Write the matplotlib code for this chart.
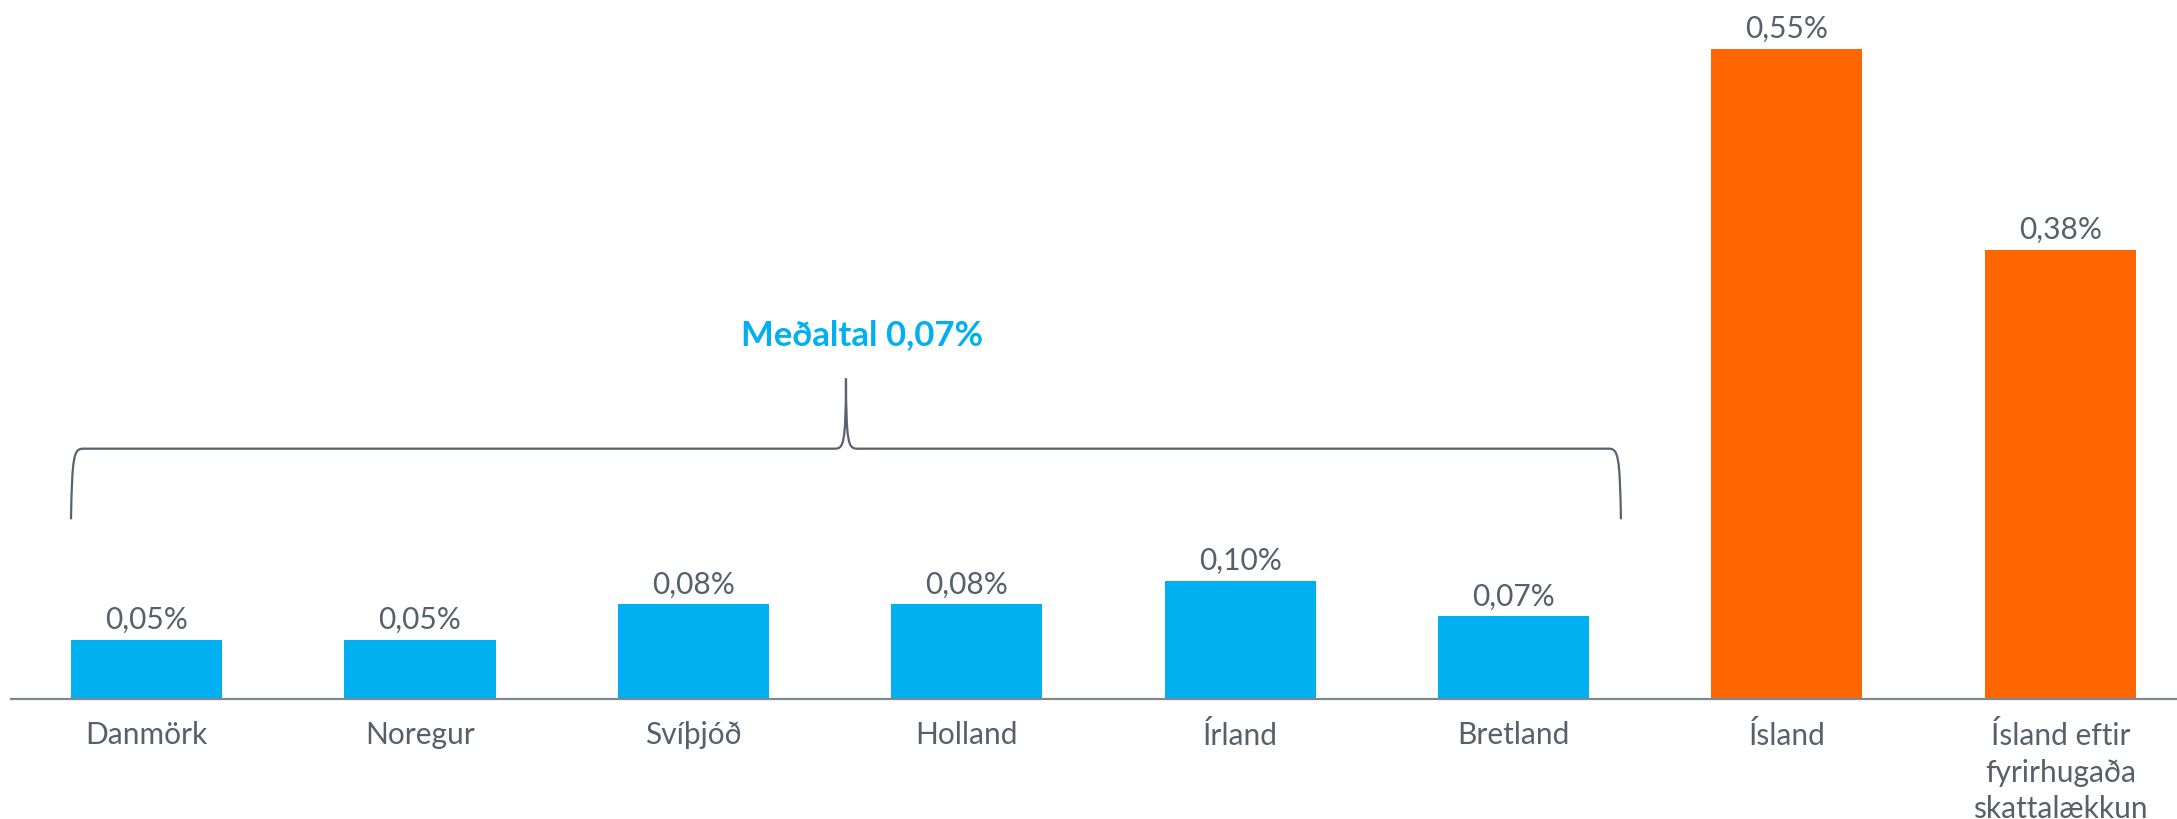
import matplotlib
matplotlib.use("Agg")
import matplotlib.pyplot as plt
from matplotlib.path import Path
from matplotlib.patches import PathPatch

# ---- data ----
categories = ["Danmörk", "Noregur", "Svíþjóð", "Holland", "Írland", "Bretland",
              "Ísland", "Ísland eftir\nfyrirhugaða\nskattalækkun"]
values = [0.05, 0.05, 0.08, 0.08, 0.10, 0.07, 0.55, 0.38]
value_labels = ["0,05%", "0,05%", "0,08%", "0,08%", "0,10%", "0,07%", "0,55%", "0,38%"]
bar_colors = ["#00B0F0"] * 6 + ["#FF6600"] * 2
average_label = "Meðaltal 0,07%"

TEXT = "#56606B"
LINE = "#5A6270"
FONT = ["Lato", "DejaVu Sans"]

fig = plt.figure(figsize=(21.77, 8.2), dpi=100)
ax = fig.add_axes([11 / 2177, 120 / 820, 1 - 11 / 2177, 1 - 120 / 820])

x = list(range(len(categories)))
ax.bar(x, values, width=0.553, color=bar_colors, zorder=2)

ax.set_xlim(-0.496, 7.427)
ax.set_ylim(0, 0.592)

for xi, v, lab in zip(x, values, value_labels):
    ax.annotate(lab, (xi, v), xytext=(0, 5), textcoords="offset points",
                ha="center", va="bottom", fontsize=21.5, color=TEXT, family=FONT)

ax.set_xticks(x)
ax.set_xticklabels(categories, fontsize=21.5, color=TEXT, family=FONT, linespacing=1.38)
ax.tick_params(axis="x", length=0, pad=15)
ax.set_yticks([])
for s in ["top", "left", "right"]:
    ax.spines[s].set_visible(False)
ax.spines["bottom"].set_color("#7F8790")
ax.spines["bottom"].set_linewidth(1.6)

# ---- brace over the first six bars ----
x0 = x[0] - 0.553 / 2
x1 = 5.393
xm = (x0 + x1) / 2
yb, yh, yt = 0.152, 0.2117, 0.271
verts = [
    (x0, yb),
    (x0 + 0.004, yh - 0.006), (x0 + 0.01, yh), (x0 + 0.045, yh),
    (xm - 0.042, yh),
    (xm - 0.008, yh), (xm - 0.001, yh + 0.004), (xm, yt),
    (xm + 0.001, yh + 0.004), (xm + 0.008, yh), (xm + 0.042, yh),
    (x1 - 0.045, yh),
    (x1 - 0.01, yh), (x1 - 0.004, yh - 0.006), (x1, yb),
]
codes = [Path.MOVETO,
         Path.CURVE4, Path.CURVE4, Path.CURVE4,
         Path.LINETO,
         Path.CURVE4, Path.CURVE4, Path.CURVE4,
         Path.CURVE4, Path.CURVE4, Path.CURVE4,
         Path.LINETO,
         Path.CURVE4, Path.CURVE4, Path.CURVE4]
ax.add_patch(PathPatch(Path(verts, codes), fill=False, edgecolor=LINE, lw=1.6,
                       clip_on=False))

ax.text(xm + 0.06, 0.309, average_label, ha="center", va="center", fontsize=25,
        fontweight="bold", color="#00B0F0", family=FONT)

fig.savefig("out.png", dpi=100)
